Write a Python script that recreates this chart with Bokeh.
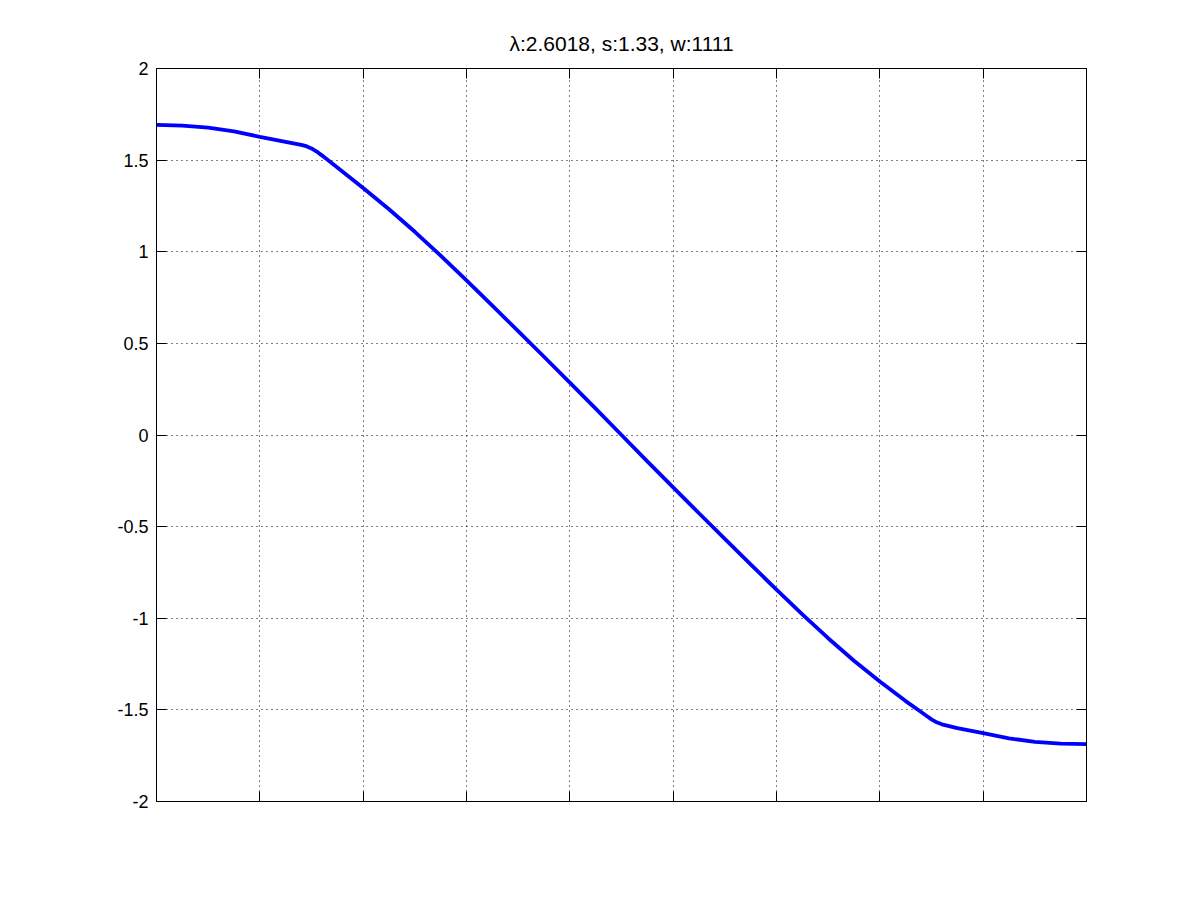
from bokeh.plotting import figure
from bokeh.models import LinearAxis, Range1d, FixedTicker, CustomLabelingPolicy
from bokeh.embed import file_html
from bokeh.resources import INLINE

title_text = "λ:2.6018, s:1.33, w:1111"

x_vals = [0, 0.25, 0.5, 0.75, 1.0, 1.25, 1.4, 1.45, 1.5, 1.55, 1.6, 1.75, 2.0,
          2.25, 2.5, 2.75, 3.0, 3.25, 3.5, 3.75, 4.0, 4.25, 4.5, 4.75, 5.0,
          5.25, 5.5, 5.75, 6.0, 6.25, 6.5, 6.75, 7.0, 7.25, 7.4, 7.45, 7.5,
          7.55, 7.6, 7.75, 8.0, 8.25, 8.5, 8.75, 9.0]
y_vals = [1.692, 1.688, 1.677, 1.657, 1.627, 1.600, 1.583, 1.576, 1.564, 1.547,
          1.526, 1.460, 1.348, 1.232, 1.109, 0.979, 0.844, 0.706, 0.567, 0.427,
          0.286, 0.144, 0.0, -0.144, -0.286, -0.427, -0.567, -0.706, -0.844,
          -0.979, -1.109, -1.232, -1.345, -1.452, -1.512, -1.532, -1.552,
          -1.568, -1.579, -1.600, -1.627, -1.655, -1.675, -1.684, -1.687]

x_ticks = [0, 1, 2, 3, 4, 5, 6, 7, 8, 9]
y_ticks = [-2, -1.5, -1, -0.5, 0, 0.5, 1, 1.5, 2]
y_tick_labels = ["-2", "-1.5", "-1", "-0.5", "0", "0.5", "1", "1.5", "2"]

FONT = "Liberation Sans"

p = figure(width=1200, height=900, output_backend="svg", toolbar_location=None,
           x_range=Range1d(0, 9), y_range=Range1d(-2, 2),
           min_border_left=156, min_border_right=114,
           min_border_top=68, min_border_bottom=99,
           background_fill_color="white", border_fill_color="white")

p.title.text = title_text
p.title.align = "center"
p.title.text_font = FONT
p.title.text_font_size = "21px"
p.title.text_font_style = "normal"
p.title.text_color = "black"
p.title.standoff = 19

xt = FixedTicker(ticks=x_ticks, minor_ticks=[])
yt = FixedTicker(ticks=y_ticks, minor_ticks=[])

p.xaxis.ticker = xt
p.yaxis.ticker = yt
p.xgrid.ticker = xt
p.ygrid.ticker = yt

for g in (p.xgrid, p.ygrid):
    g.grid_line_color = "black"
    g.grid_line_dash = "1 4"
    g.grid_line_width = 1
    g.grid_line_alpha = 1.0

p.yaxis.major_label_overrides = {t: l for t, l in zip(y_ticks, y_tick_labels)}


def hide_labels():
    return CustomLabelingPolicy(code="""
        const ids = [...indices]
        for (const i of ids) { indices.unset(i) }
        return indices
    """)


for ax in (p.xaxis[0], p.yaxis[0]):
    ax.major_tick_in = 10
    ax.major_tick_out = 0
    ax.minor_tick_line_color = None
    ax.axis_line_color = "black"
    ax.major_tick_line_color = "black"
    ax.major_label_text_font = FONT
    ax.major_label_text_font_size = "18px"
    ax.major_label_text_color = "black"
    ax.major_label_standoff = 8

p.xaxis[0].major_label_policy = hide_labels()
p.xaxis[0].major_label_text_font_size = "2px"

right_ax = LinearAxis(ticker=yt, major_tick_in=10, major_tick_out=0,
                      minor_tick_line_color=None, major_label_text_font_size="2px",
                      major_label_standoff=0, axis_line_color="black",
                      major_label_policy=hide_labels())
top_ax = LinearAxis(ticker=xt, major_tick_in=10, major_tick_out=0,
                    minor_tick_line_color=None, major_label_text_font_size="2px",
                    major_label_standoff=0, axis_line_color="black",
                    major_label_policy=hide_labels())
p.add_layout(right_ax, "right")
p.add_layout(top_ax, "above")

p.outline_line_color = "black"
p.outline_line_width = 1

p.line(x_vals, y_vals, line_color="#0000ff", line_width=3.8)

open("out.html", "w").write(file_html(p, INLINE))
